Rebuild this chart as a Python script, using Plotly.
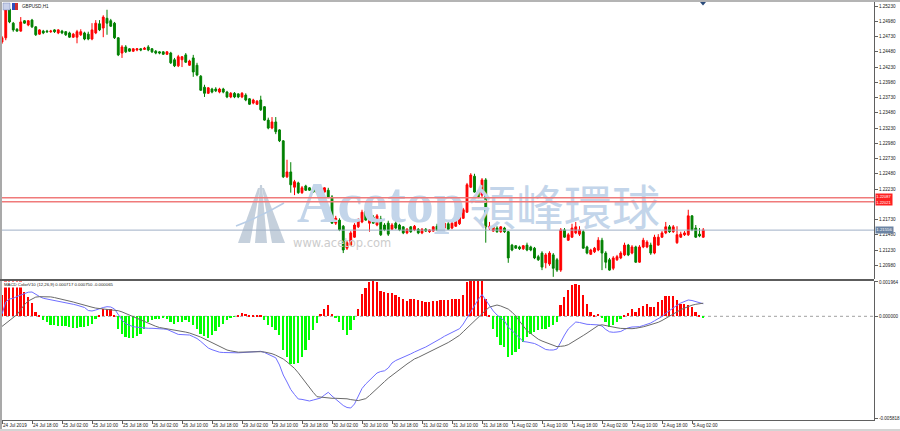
import plotly.graph_objects as go

# ---------------- data (GBPUSD H1) ----------------
open_ = [1.2464,1.2471,1.2518,1.2495,1.2485,1.2482,1.2499,1.2492,1.2500,1.2489,
1.2477,1.2482,1.2482,1.2481,1.2484,1.2479,1.2482,1.2481,1.2479,1.2472,
1.2472,1.2476,1.2479,1.2477,1.2469,1.2479,1.2494,1.2487,1.2503,1.2499,
1.2495,1.2471,1.2446,1.2456,1.2453,1.2449,1.2451,1.2453,1.2452,1.2456,
1.2453,1.2449,1.2448,1.2448,1.2444,1.2446,1.2435,1.2425,1.2435,1.2443,
1.2426,1.2438,1.2426,1.2408,1.2390,1.2380,1.2387,1.2387,1.2382,1.2387,
1.2382,1.2374,1.2380,1.2379,1.2374,1.2377,1.2371,1.2364,1.2362,1.2369,
1.2358,1.2336,1.2323,1.2333,1.2320,1.2302,1.2243,1.2251,1.2226,1.2233,
1.2217,1.2228,1.2225,1.2223,1.2217,1.2218,1.2218,1.2221,1.2210,1.2167,
1.2172,1.2162,1.2126,1.2131,1.2144,1.2161,1.2169,1.2187,1.2167,1.2177,
1.2164,1.2174,1.2164,1.2167,1.2157,1.2167,1.2164,1.2161,1.2151,1.2161,
1.2156,1.2157,1.2151,1.2157,1.2153,1.2154,1.2162,1.2157,1.2159,1.2166,
1.2159,1.2162,1.2166,1.2175,1.2185,1.2226,1.2244,1.2218,1.2213,1.2238,
1.2159,1.2154,1.2159,1.2153,1.2159,1.2153,1.2131,1.2130,1.2128,1.2125,
1.2131,1.2128,1.2126,1.2112,1.2118,1.2102,1.2100,1.2115,1.2107,1.2090,
1.2156,1.2139,1.2144,1.2151,1.2149,1.2153,1.2128,1.2116,1.2120,1.2123,
1.2139,1.2118,1.2107,1.2093,1.2107,1.2110,1.2115,1.2131,1.2118,1.2128,
1.2103,1.2128,1.2128,1.2131,1.2118,1.2131,1.2144,1.2151,1.2161,1.2153,
1.2135,1.2144,1.2148,1.2148,1.2179,1.2159,1.2149,1.2144]
high = [1.2474,1.2520,1.2522,1.2497,1.2487,1.2505,1.2500,1.2500,1.2502,1.2490,
1.2485,1.2484,1.2484,1.2484,1.2485,1.2485,1.2484,1.2482,1.2481,1.2479,
1.2484,1.2485,1.2481,1.2481,1.2495,1.2500,1.2500,1.2508,1.2517,1.2502,
1.2497,1.2472,1.2459,1.2459,1.2454,1.2454,1.2454,1.2454,1.2456,1.2459,
1.2454,1.2451,1.2449,1.2449,1.2449,1.2448,1.2438,1.2443,1.2441,1.2446,
1.2435,1.2443,1.2430,1.2410,1.2394,1.2390,1.2389,1.2390,1.2389,1.2389,
1.2384,1.2382,1.2382,1.2380,1.2382,1.2380,1.2372,1.2371,1.2369,1.2376,
1.2359,1.2340,1.2341,1.2341,1.2321,1.2303,1.2271,1.2267,1.2238,1.2235,
1.2228,1.2230,1.2226,1.2225,1.2226,1.2228,1.2226,1.2225,1.2213,1.2179,
1.2175,1.2164,1.2138,1.2154,1.2167,1.2175,1.2189,1.2190,1.2180,1.2180,
1.2182,1.2179,1.2167,1.2171,1.2167,1.2171,1.2166,1.2162,1.2159,1.2162,
1.2164,1.2159,1.2159,1.2159,1.2157,1.2162,1.2166,1.2169,1.2171,1.2169,
1.2171,1.2174,1.2180,1.2192,1.2233,1.2249,1.2248,1.2221,1.2241,1.2241,
1.2169,1.2164,1.2162,1.2162,1.2161,1.2154,1.2133,1.2131,1.2130,1.2131,
1.2135,1.2130,1.2128,1.2115,1.2121,1.2118,1.2121,1.2118,1.2110,1.2159,
1.2159,1.2151,1.2166,1.2169,1.2162,1.2156,1.2130,1.2125,1.2128,1.2144,
1.2143,1.2121,1.2110,1.2113,1.2115,1.2121,1.2135,1.2133,1.2131,1.2130,
1.2131,1.2143,1.2139,1.2135,1.2148,1.2149,1.2154,1.2169,1.2164,1.2164,
1.2162,1.2153,1.2154,1.2189,1.2180,1.2164,1.2159,1.2159]
low = [1.2461,1.2467,1.2495,1.2481,1.2481,1.2481,1.2494,1.2490,1.2487,1.2474,
1.2476,1.2477,1.2479,1.2479,1.2479,1.2477,1.2477,1.2474,1.2471,1.2471,
1.2462,1.2474,1.2467,1.2467,1.2467,1.2477,1.2482,1.2472,1.2476,1.2489,
1.2469,1.2441,1.2438,1.2446,1.2448,1.2448,1.2449,1.2449,1.2451,1.2449,
1.2446,1.2444,1.2444,1.2443,1.2443,1.2428,1.2423,1.2423,1.2423,1.2430,
1.2425,1.2407,1.2408,1.2384,1.2374,1.2379,1.2380,1.2382,1.2380,1.2380,
1.2372,1.2372,1.2372,1.2372,1.2372,1.2367,1.2361,1.2362,1.2361,1.2351,
1.2335,1.2321,1.2321,1.2313,1.2300,1.2241,1.2241,1.2217,1.2213,1.2215,
1.2215,1.2220,1.2220,1.2217,1.2215,1.2217,1.2217,1.2208,1.2166,1.2164,
1.2154,1.2118,1.2123,1.2130,1.2143,1.2159,1.2167,1.2171,1.2153,1.2166,
1.2162,1.2146,1.2154,1.2146,1.2156,1.2157,1.2154,1.2149,1.2149,1.2151,
1.2154,1.2149,1.2149,1.2153,1.2151,1.2153,1.2154,1.2156,1.2157,1.2156,
1.2157,1.2161,1.2164,1.2174,1.2184,1.2225,1.2217,1.2208,1.2210,1.2135,
1.2156,1.2153,1.2151,1.2151,1.2151,1.2102,1.2121,1.2125,1.2123,1.2123,
1.2121,1.2121,1.2108,1.2105,1.2090,1.2093,1.2097,1.2079,1.2087,1.2087,
1.2143,1.2138,1.2143,1.2149,1.2146,1.2125,1.2116,1.2115,1.2118,1.2121,
1.2090,1.2093,1.2089,1.2090,1.2105,1.2108,1.2113,1.2113,1.2116,1.2102,
1.2102,1.2126,1.2126,1.2115,1.2116,1.2130,1.2143,1.2149,1.2151,1.2151,
1.2133,1.2143,1.2146,1.2146,1.2154,1.2143,1.2144,1.2143]
close = [1.2471,1.2517,1.2497,1.2484,1.2482,1.2497,1.2495,1.2499,1.2489,1.2476,
1.2484,1.2479,1.2481,1.2482,1.2481,1.2484,1.2479,1.2476,1.2472,1.2477,
1.2481,1.2481,1.2469,1.2469,1.2484,1.2495,1.2484,1.2505,1.2495,1.2490,
1.2471,1.2443,1.2456,1.2448,1.2449,1.2453,1.2453,1.2451,1.2454,1.2451,
1.2448,1.2446,1.2446,1.2444,1.2448,1.2430,1.2425,1.2440,1.2440,1.2431,
1.2433,1.2415,1.2410,1.2385,1.2380,1.2389,1.2382,1.2384,1.2387,1.2382,
1.2374,1.2380,1.2374,1.2374,1.2380,1.2369,1.2362,1.2369,1.2367,1.2353,
1.2336,1.2323,1.2333,1.2317,1.2302,1.2243,1.2251,1.2230,1.2235,1.2217,
1.2225,1.2221,1.2221,1.2218,1.2225,1.2225,1.2225,1.2210,1.2167,1.2175,
1.2156,1.2123,1.2135,1.2151,1.2164,1.2172,1.2185,1.2172,1.2177,1.2167,
1.2179,1.2148,1.2156,1.2149,1.2164,1.2159,1.2156,1.2151,1.2157,1.2153,
1.2162,1.2151,1.2157,1.2154,1.2156,1.2161,1.2156,1.2164,1.2167,1.2157,
1.2167,1.2171,1.2177,1.2189,1.2230,1.2246,1.2218,1.2210,1.2238,1.2161,
1.2162,1.2161,1.2153,1.2161,1.2153,1.2110,1.2123,1.2126,1.2125,1.2130,
1.2123,1.2123,1.2110,1.2107,1.2095,1.2115,1.2118,1.2093,1.2090,1.2156,
1.2144,1.2148,1.2159,1.2161,1.2156,1.2126,1.2118,1.2123,1.2126,1.2139,
1.2118,1.2103,1.2090,1.2110,1.2112,1.2118,1.2131,1.2115,1.2128,1.2103,
1.2128,1.2139,1.2136,1.2118,1.2144,1.2144,1.2151,1.2161,1.2153,1.2161,
1.2148,1.2149,1.2151,1.2179,1.2156,1.2144,1.2146,1.2156]

macd_hist = [0.00120,0.00205,0.00205,0.00205,0.00205,0.00205,0.00141,0.00112,0.00074,0.00026,
0.00003,-0.00023,-0.00033,-0.00047,-0.00051,-0.00055,-0.00055,-0.00055,-0.00061,-0.00065,
-0.00065,-0.00061,-0.00061,-0.00055,-0.00042,-0.00013,0.00003,0.00044,0.00044,0.00044,
0.00010,-0.00070,-0.00099,-0.00118,-0.00124,-0.00124,-0.00114,-0.00099,-0.00070,-0.00033,
-0.00023,-0.00013,-0.00013,-0.00010,-0.00013,-0.00033,-0.00042,-0.00033,-0.00033,-0.00023,
-0.00033,-0.00051,-0.00070,-0.00099,-0.00113,-0.00122,-0.00109,-0.00086,-0.00061,-0.00042,
-0.00023,-0.00010,-0.00004,0.00010,0.00019,0.00015,0.00010,0.00010,0.00010,0.00006,
-0.00023,-0.00051,-0.00061,-0.00080,-0.00109,-0.00194,-0.00233,-0.00271,-0.00271,-0.00265,
-0.00233,-0.00194,-0.00137,-0.00080,-0.00036,0.00015,0.00044,0.00063,0.00015,-0.00010,
-0.00033,-0.00080,-0.00109,-0.00080,-0.00023,0.00044,0.00130,0.00162,0.00198,0.00210,
0.00196,0.00143,0.00139,0.00136,0.00136,0.00124,0.00110,0.00097,0.00086,0.00097,
0.00097,0.00092,0.00086,0.00082,0.00082,0.00086,0.00090,0.00092,0.00096,0.00092,
0.00097,0.00097,0.00101,0.00124,0.00195,0.00215,0.00220,0.00218,0.00212,0.00101,
0.00006,-0.00070,-0.00118,-0.00166,-0.00176,-0.00233,-0.00223,-0.00204,-0.00185,-0.00147,
-0.00118,-0.00099,-0.00090,-0.00080,-0.00070,-0.00070,-0.00061,-0.00051,-0.00033,0.00063,
0.00110,0.00149,0.00181,0.00187,0.00177,0.00124,0.00073,0.00025,0.00006,0.00015,
-0.00010,-0.00033,-0.00061,-0.00051,-0.00033,-0.00013,0.00010,0.00019,0.00044,0.00025,
0.00048,0.00057,0.00073,0.00053,0.00053,0.00082,0.00096,0.00116,0.00116,0.00116,
0.00092,0.00073,0.00073,0.00063,0.00053,0.00025,0.00006,-0.000065]

macd_main = [0.000132,0.000818,0.000990,0.001030,0.001133,0.001218,0.001304,0.001379,0.001390,0.001247,
0.001133,0.001030,0.000990,0.000955,0.000921,0.000887,0.000847,0.000795,0.000738,0.000686,
0.000635,0.000583,0.000503,0.000332,0.000303,0.000360,0.000446,0.000503,0.000549,0.000532,
0.000418,0.000074,-0.000212,-0.000429,-0.000526,-0.000595,-0.000623,-0.000658,-0.000686,-0.000686,
-0.000686,-0.000686,-0.000704,-0.000726,-0.000749,-0.000858,-0.000967,-0.001035,-0.001047,-0.001058,
-0.001070,-0.001167,-0.001270,-0.001436,-0.001602,-0.001813,-0.001910,-0.001985,-0.002053,-0.002071,
-0.002082,-0.002094,-0.002099,-0.002088,-0.002076,-0.002065,-0.002042,-0.002019,-0.002002,-0.002002,
-0.002071,-0.002185,-0.002271,-0.002374,-0.002786,-0.003358,-0.003758,-0.004187,-0.004473,-0.004730,
-0.004753,-0.004799,-0.004845,-0.004788,-0.004730,-0.004673,-0.004502,-0.004347,-0.004559,-0.004759,
-0.004931,-0.005102,-0.005217,-0.005245,-0.005016,-0.004616,-0.004130,-0.003872,-0.003655,-0.003443,
-0.003243,-0.003157,-0.003117,-0.002957,-0.002671,-0.002528,-0.002442,-0.002357,-0.002265,-0.002151,
-0.002042,-0.001928,-0.001848,-0.001756,-0.001642,-0.001539,-0.001401,-0.001270,-0.001138,-0.001024,
-0.000898,-0.000807,-0.000709,-0.000440,-0.000069,0.000303,0.000646,0.000961,0.001247,0.000932,
0.000561,0.000303,0.000074,-0.000097,-0.000269,-0.000612,-0.000812,-0.000984,-0.001184,-0.001441,
-0.001470,-0.001510,-0.001556,-0.001659,-0.001756,-0.001899,-0.001928,-0.001928,-0.001870,-0.001441,
-0.001070,-0.000726,-0.000543,-0.000326,-0.000355,-0.000412,-0.000458,-0.000469,-0.000480,-0.000492,
-0.000555,-0.000755,-0.000887,-0.000915,-0.000898,-0.000869,-0.000755,-0.000658,-0.000612,-0.000595,
-0.000595,-0.000526,-0.000458,-0.000383,-0.000257,-0.000154,-0.000011,0.000172,0.000337,0.000503,
0.000629,0.000761,0.000852,0.000932,0.000904,0.000847,0.000789,0.000717]

macd_signal = [-0.000578,-0.000412,-0.000246,-0.000080,0.000097,0.000383,0.000669,0.000875,0.000990,0.001098,
0.001121,0.001121,0.001121,0.001110,0.001070,0.001024,0.000984,0.000944,0.000881,0.000818,
0.000755,0.000686,0.000629,0.000578,0.000521,0.000469,0.000440,0.000429,0.000412,0.000395,
0.000349,0.000320,0.000252,0.000160,0.000063,-0.000017,-0.000120,-0.000229,-0.000337,-0.000429,
-0.000498,-0.000572,-0.000641,-0.000675,-0.000715,-0.000749,-0.000789,-0.000829,-0.000864,-0.000904,
-0.000955,-0.001018,-0.001110,-0.001190,-0.001298,-0.001407,-0.001510,-0.001619,-0.001727,-0.001830,
-0.001928,-0.001979,-0.002036,-0.002053,-0.002048,-0.002036,-0.002025,-0.002025,-0.002025,-0.002025,
-0.002042,-0.002088,-0.002139,-0.002225,-0.002334,-0.002442,-0.002608,-0.002774,-0.002980,-0.003232,
-0.003518,-0.003850,-0.004118,-0.004353,-0.004599,-0.004627,-0.004650,-0.004679,-0.004690,-0.004690,
-0.004690,-0.004690,-0.004719,-0.004765,-0.004811,-0.004822,-0.004765,-0.004708,-0.004530,-0.004319,
-0.004107,-0.003924,-0.003735,-0.003541,-0.003369,-0.003209,-0.003049,-0.002871,-0.002728,-0.002585,
-0.002437,-0.002351,-0.002248,-0.002151,-0.002053,-0.001928,-0.001819,-0.001710,-0.001602,-0.001499,
-0.001367,-0.001218,-0.001087,-0.000881,-0.000669,-0.000458,-0.000240,-0.000029,0.000154,0.000349,
0.000526,0.000595,0.000646,0.000589,0.000498,0.000412,0.000235,0.000017,-0.000275,-0.000561,
-0.000824,-0.000984,-0.001150,-0.001310,-0.001413,-0.001487,-0.001579,-0.001670,-0.001739,-0.001716,
-0.001693,-0.001624,-0.001504,-0.001384,-0.001247,-0.001098,-0.000961,-0.000818,-0.000675,-0.000526,
-0.000486,-0.000538,-0.000589,-0.000623,-0.000658,-0.000692,-0.000709,-0.000721,-0.000709,-0.000686,
-0.000658,-0.000601,-0.000543,-0.000486,-0.000412,-0.000343,-0.000240,-0.000114,0.000017,0.000137,
0.000263,0.000378,0.000469,0.000561,0.000635,0.000686,0.000738,0.000750]

time_labels = ["24 Jul 2019", "24 Jul 18:00", "25 Jul 02:00", "25 Jul 10:00", "25 Jul 18:00",
               "26 Jul 02:00", "26 Jul 10:00", "26 Jul 18:00", "29 Jul 02:00", "29 Jul 10:00",
               "29 Jul 18:00", "30 Jul 02:00", "30 Jul 10:00", "30 Jul 18:00", "31 Jul 02:00",
               "31 Jul 10:00", "31 Jul 18:00", "1 Aug 02:00", "1 Aug 10:00", "1 Aug 18:00",
               "2 Aug 02:00", "2 Aug 10:00", "2 Aug 18:00", "5 Aug 02:00"]
price_ticks = [1.25230, 1.24980, 1.24730, 1.24480, 1.24230, 1.23980, 1.23730, 1.23480, 1.23230,
               1.22980, 1.22730, 1.22480, 1.22230, 1.21730, 1.21480, 1.21230, 1.20980]
macd_ticks = [0.001964, 0.0, -0.005818]
red_levels = [1.22087, 1.22021]
bid_level = 1.21556

# ---------------- layout geometry ----------------
W, H = 900, 431
ML, MR, MT, MB = 0, 26, 2, 11
PW, PH = W - ML - MR, H - MT - MB          # 874 x 418
X_RANGE = [-0.5333, 232.5333]
Y1_RANGE = [1.207544, 1.252972]
Y2_RANGE = [-0.0059316, 0.0020192]
MAIN_TOP, MAIN_BOT = 2, 279                  # page px of main panel
SUB_TOP, SUB_BOT = 281, 420

def pxp(px):   # page x px -> paper x
    return (px - ML) / PW

def pyp(py):   # page y px -> paper y
    return (H - MB - py) / PH

def px2k(px):
    return X_RANGE[0] + (px - ML) / PW * (X_RANGE[1] - X_RANGE[0])

def py2price(py):
    return Y1_RANGE[1] - (py - MAIN_TOP) / (MAIN_BOT - MAIN_TOP) * (Y1_RANGE[1] - Y1_RANGE[0])

bars = list(range(len(close)))
hist_colors = ["#ff0000" if v > 0 else "#00ff00" for v in macd_hist]

fig = go.Figure()

# watermark (drawn first so candles sit on top)
WM = "#c3d5ea"
fig.add_trace(go.Scatter(x=[px2k(297)], y=[py2price(208)], mode="text", text=["Acetop"],
                         textposition="middle right", hoverinfo="skip",
                         textfont=dict(family="Liberation Serif", size=56, color=WM, weight="bold")))
fig.add_trace(go.Scatter(x=[px2k(468)], y=[py2price(213)], mode="text", text=["領峰環球"],
                         textposition="middle right", hoverinfo="skip",
                         textfont=dict(family="Noto Sans CJK TC", size=48, color=WM)))
fig.add_trace(go.Scatter(x=[px2k(293)], y=[py2price(244)], mode="text", text=["www.acetop.com"],
                         textposition="middle right", hoverinfo="skip",
                         textfont=dict(family="DejaVu Sans", size=11.5, color="#cccccc")))

fig.add_trace(go.Candlestick(
    x=bars, open=open_, high=high, low=low, close=close,
    increasing=dict(line=dict(color="#ff0000", width=1), fillcolor="#ff0000"),
    decreasing=dict(line=dict(color="#008000", width=1), fillcolor="#008000"),
    whiskerwidth=0, xaxis="x", yaxis="y", hoverinfo="skip"))

fig.add_trace(go.Bar(x=bars, y=macd_hist, marker=dict(color=hist_colors, line=dict(width=0)),
                     width=0.5, xaxis="x2", yaxis="y2", hoverinfo="skip"))
fig.add_trace(go.Scatter(x=bars, y=macd_main, mode="lines", line=dict(color="#6f6fff", width=1),
                         xaxis="x2", yaxis="y2", hoverinfo="skip"))
fig.add_trace(go.Scatter(x=bars, y=macd_signal, mode="lines", line=dict(color="#6a6a6a", width=1),
                         xaxis="x2", yaxis="y2", hoverinfo="skip"))

shapes = []
# logo
LOGO = "#c5d0dc"
def path(points):
    return "M " + " L ".join(f"{pxp(a):.5f},{pyp(b):.5f}" for a, b in points) + " Z"
for pts in ([(238, 243), (250, 243), (260, 188), (258, 188)],
            [(255, 243), (267, 243), (262, 185), (260, 185)],
            [(272, 243), (285, 243), (264, 188), (262, 188)]):
    shapes.append(dict(type="path", xref="paper", yref="paper", path=path(pts),
                       fillcolor=LOGO, line=dict(width=0), layer="below"))
shapes.append(dict(type="path", xref="paper", yref="paper",
                   path=f"M {pxp(236):.5f},{pyp(226):.5f} Q {pxp(262):.5f},{pyp(216):.5f} {pxp(284):.5f},{pyp(203):.5f}",
                   line=dict(color="#b8cde6", width=1.5), layer="below"))

# price lines
for lv in red_levels:
    shapes.append(dict(type="line", xref="paper", x0=0, x1=1, yref="y", y0=lv, y1=lv,
                       line=dict(color="#f07a7a", width=1.3)))
shapes.append(dict(type="line", xref="paper", x0=0, x1=1, yref="y", y0=bid_level, y1=bid_level,
                   line=dict(color="#9fb0c6", width=1)))
# zero level of MACD
shapes.append(dict(type="line", xref="paper", x0=0, x1=1, yref="y2", y0=0, y1=0,
                   line=dict(color="#a0a0a0", width=1, dash="dot"), layer="below"))
# frame
shapes.append(dict(type="rect", xref="paper", yref="paper", x0=0, x1=pxp(2), y0=pyp(H), y1=pyp(0),
                   fillcolor="#a9a9a9", line=dict(width=0)))
shapes.append(dict(type="rect", xref="paper", yref="paper", x0=0, x1=pxp(W), y0=pyp(2), y1=pyp(0),
                   fillcolor="#b4b4b4", line=dict(width=0)))
shapes.append(dict(type="rect", xref="paper", yref="paper", x0=0, x1=1, y0=pyp(281), y1=pyp(279),
                   fillcolor="#5c5c5c", line=dict(width=0)))
shapes.append(dict(type="rect", xref="paper", yref="paper", x0=0, x1=pxp(W), y0=pyp(H), y1=pyp(429),
                   fillcolor="#d4d4d4", line=dict(width=0)))
# chart-shift marker
shapes.append(dict(type="path", xref="paper", yref="paper",
                   path=f"M {pxp(700):.5f},{pyp(2):.5f} L {pxp(706):.5f},{pyp(2):.5f} L {pxp(703):.5f},{pyp(5.5):.5f} Z",
                   fillcolor="#2a4a7a", line=dict(width=0)))
# window icon
shapes.append(dict(type="rect", xref="paper", yref="paper", x0=pxp(3), x1=pxp(10), y0=pyp(10), y1=pyp(3),
                   fillcolor="#c8d0ea", line=dict(color="#7080b0", width=0.5)))
shapes.append(dict(type="rect", xref="paper", yref="paper", x0=pxp(12), x1=pxp(15), y0=pyp(10), y1=pyp(3),
                   fillcolor="#3050c0", line=dict(width=0)))
shapes.append(dict(type="rect", xref="paper", yref="paper", x0=pxp(15), x1=pxp(18), y0=pyp(10), y1=pyp(3),
                   fillcolor="#d03030", line=dict(width=0)))

annotations = [
    dict(x=pxp(20), y=pyp(6.5), xref="paper", yref="paper", text="GBPUSD,H1", showarrow=False,
         xanchor="left", yanchor="middle", font=dict(family="Liberation Sans", size=4.6, color="#202020")),
    dict(x=pxp(3), y=pyp(285), xref="paper", yref="paper",
         text="MACD ColorV10 (12,26,9) 0.000717 0.000750 -0.000065", showarrow=False,
         xanchor="left", yanchor="middle", bgcolor="white", borderpad=0,
         font=dict(family="Liberation Sans", size=4.3, color="#202020")),
    # two red price labels stacked in one box
    dict(x=1, xref="paper", y=(red_levels[0] + red_levels[1]) / 2, yref="y",
         text="1.22087<br>1.22021", showarrow=False, xanchor="left", yanchor="middle", xshift=1,
         bgcolor="#ff2020", borderpad=0.3, align="left",
         font=dict(family="Liberation Sans", size=4.0, color="white")),
    dict(x=1, xref="paper", y=bid_level, yref="y", text="1.21556", showarrow=False,
         xanchor="left", yanchor="middle", xshift=1, bgcolor="#6b83a3",
         borderpad=0.3, font=dict(family="Liberation Sans", size=4.3, color="white")),
]

axis_font = dict(family="Liberation Sans", size=4.6, color="#202020")
fig.update_layout(
    width=W, height=H, margin=dict(l=ML, r=MR, t=MT, b=MB, pad=0, autoexpand=False),
    paper_bgcolor="white", plot_bgcolor="white", showlegend=False, bargap=0,
    xaxis=dict(domain=[0, 1], range=X_RANGE, anchor="y", showticklabels=False, ticks="",
               showgrid=False, zeroline=False, showline=False, rangeslider=dict(visible=False),
               automargin=False),
    xaxis2=dict(domain=[0, 1], range=X_RANGE, anchor="y2", matches="x", showgrid=False, zeroline=False,
                tickmode="array", tickvals=list(range(0, 8 * len(time_labels), 8)), ticktext=time_labels,
                tickangle=0, ticks="outside", ticklen=3, tickwidth=1, tickcolor="#606060",
                ticklabelposition="outside right", tickfont=axis_font, automargin=False,
                showline=True, linecolor="#606060", linewidth=1),
    yaxis=dict(domain=[pyp(MAIN_BOT), pyp(MAIN_TOP)], range=Y1_RANGE, anchor="x", side="right",
               tickmode="array", tickvals=price_ticks, ticktext=[f"{v:.5f}" for v in price_ticks],
               ticks="outside", ticklen=3, tickwidth=1, tickcolor="#606060", tickfont=axis_font,
               showgrid=False, zeroline=False, showline=True, linecolor="#606060", linewidth=1,
               automargin=False),
    yaxis2=dict(domain=[pyp(SUB_BOT), pyp(SUB_TOP)], range=Y2_RANGE, anchor="x2", side="right",
                tickmode="array", tickvals=macd_ticks, ticktext=["0.001964", "0.000000", "-0.005818"],
                ticks="outside", ticklen=3, tickwidth=1, tickcolor="#606060", tickfont=axis_font,
                showgrid=False, zeroline=False, showline=True, linecolor="#606060", linewidth=1,
                automargin=False),
    shapes=shapes, annotations=annotations,
)

fig.write_html("out.html")
